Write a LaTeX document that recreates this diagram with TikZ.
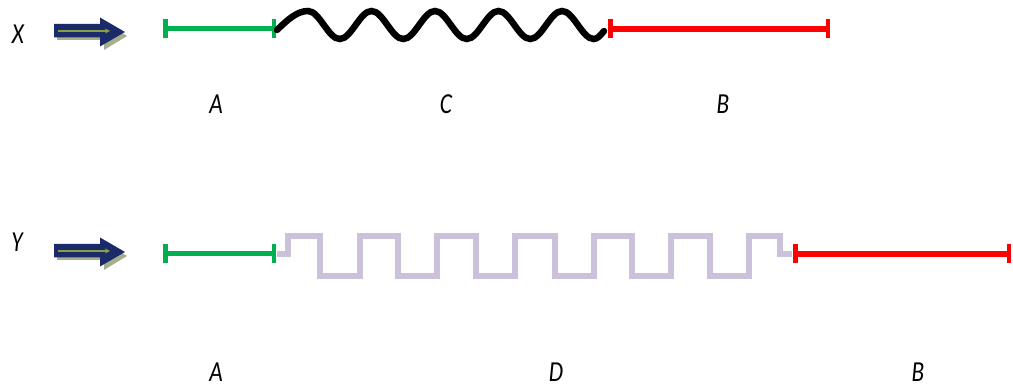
\documentclass[tikz,border=0pt]{standalone}
\usepackage{fontspec}
\setmainfont{Carlito}
\usetikzlibrary{arrows.meta}
\definecolor{segA}{HTML}{00B050}
\definecolor{segB}{HTML}{FF0000}
\definecolor{segD}{HTML}{CCC1DA}
\definecolor{navy}{HTML}{1B2A68}
\definecolor{navyshadow}{HTML}{A7AE8C}
\definecolor{navyline}{HTML}{8A9E45}
\begin{document}
\begin{tikzpicture}[x=1pt,y=-1pt,
  lbl/.style={font=\fontsize{29}{29}\selectfont\itshape, inner sep=0pt, xscale=0.8},
  bar/.style={line width=5.5pt, {Bar[width=19pt,line width=4.5pt]}-{Bar[width=19pt,line width=4.5pt]}},
  pics/feedarrow/.style={code={
    \fill[navyshadow] (57,28) -- (104,28) -- (104,22) -- (127,36) -- (104,50) -- (104,40) -- (57,40) -- cycle;
    \fill[navy] (54,24) -- (100,24) -- (100,17.5) -- (125,32) -- (100,46.5) -- (100,37.5) -- (54,37.5) -- cycle;
    \draw[navyline, line width=1.6pt, -{Stealth[length=5pt,width=5pt]}] (58,31) -- (110,31);
  }}]
\useasboundingbox (0,0) rectangle (1013,387);

% ---- row X ----
\node[lbl] (X) at (18,34) {X};
\pic at (0,0) {feedarrow};
\coordinate (xa0) at (163,28.5);
\coordinate (xa1) at (276,28.5);
\coordinate (xb0) at (608,29);
\coordinate (xb1) at (830,29);
\draw[segA, bar] (xa0) -- (xa1);
\draw[black, line width=6.5pt, line cap=round]
  (277,30) sin (308,11) cos (323.875,25) sin (339.75,39)
  cos (355.625,25) sin (371.5,11) cos (387.375,25) sin (403.25,39)
  cos (419.125,25) sin (435,11) cos (450.875,25) sin (466.75,39)
  cos (482.625,25) sin (498.5,11) cos (514.375,25) sin (530.25,39)
  cos (546.125,25) sin (562,11) cos (577.875,25) sin (593.75,39)
  cos (604,31);
\draw[segB, bar] (xb0) -- (xb1);
\node[lbl] (A1) at (216,104) {A};
\node[lbl] (C) at (446,104) {C};
\node[lbl] (B1) at (723,104) {B};

% ---- row Y ----
\node[lbl] (Y) at (17,242) {Y};
\pic at (0,220) {feedarrow};
\coordinate (ya0) at (163,253.5);
\coordinate (ya1) at (276,253.5);
\coordinate (yb0) at (793,254);
\coordinate (yb1) at (1011,254);
\draw[segA, bar] (ya0) -- (ya1);
\draw[segD, line width=6.5pt]
  (277,254) -- (288,254) -- (288,236) -- (320,236) -- (320,276)
  -- (360,276) -- (360,236) -- (398,236) -- (398,276)
  -- (437,276) -- (437,236) -- (476,236) -- (476,276)
  -- (515,276) -- (515,236) -- (555,236) -- (555,276)
  -- (594,276) -- (594,236) -- (632,236) -- (632,276)
  -- (671,276) -- (671,236) -- (710,236) -- (710,276)
  -- (749,276) -- (749,236) -- (780,236) -- (780,254) -- (792,254);
\draw[segB, bar] (yb0) -- (yb1);
\node[lbl] (A2) at (216,372) {A};
\node[lbl] (D) at (556,372) {D};
\node[lbl] (B2) at (918,372) {B};
\end{tikzpicture}
\end{document}
